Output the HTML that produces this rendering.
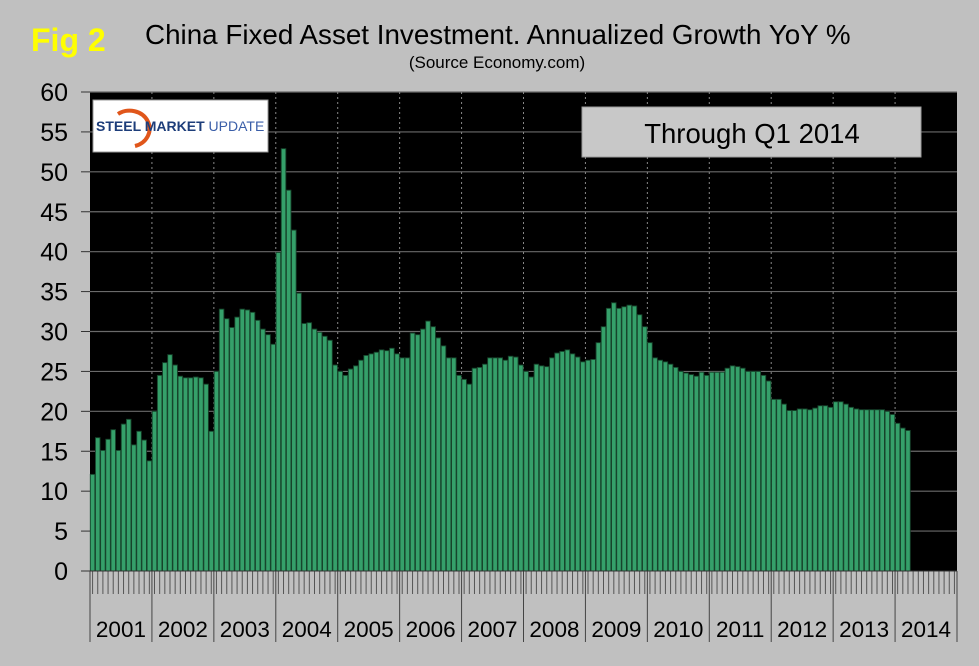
<!DOCTYPE html>
<html><head><meta charset="utf-8"><style>
html,body{margin:0;padding:0;background:#c0c0c0;}
svg{display:block;font-family:"Liberation Sans",Arial,sans-serif;}
</style></head><body>
<svg id="chart" width="979" height="666" viewBox="0 0 979 666">
<rect x="0" y="0" width="979" height="666" fill="#c0c0c0"/>
<text x="31" y="51" font-size="32" font-weight="bold" fill="#ffff00">Fig 2</text>
<text x="145" y="44" font-size="27.8" fill="#000">China Fixed Asset Investment. Annualized Growth YoY %</text>
<text x="497" y="68" font-size="17" fill="#000" text-anchor="middle">(Source Economy.com)</text>
<rect x="90" y="92" width="867" height="479" fill="#000"/>
<g id="grid"></g>
<g id="bars"></g>
<g id="axes"></g>
<g>
<rect x="93" y="100" width="175" height="52" fill="#fff" stroke="#999" stroke-width="1"/>
<path d="M118 114 A20 18 0 1 1 135 146" fill="none" stroke="#e0561b" stroke-width="4"/>
<text x="96" y="131" font-size="14" font-weight="bold" fill="#1d3d7a">STEEL <tspan fill="#1d3d7a" font-weight="bold">MARKET</tspan> <tspan font-weight="normal" fill="#3a5ea8">UPDATE</tspan></text>
</g>
<rect x="582" y="107" width="339" height="50" fill="#c8c8c8" stroke="#9a9a9a"/>
<text x="752" y="143" font-size="27.5" text-anchor="middle" fill="#000">Through Q1 2014</text>
</svg>
<script>
const years = ["2001","2002","2003","2004","2005","2006","2007","2008","2009","2010","2011","2012","2013","2014"];
const yTicks = [0,5,10,15,20,25,30,35,40,45,50,55,60];
const values = [
12.1,16.7,15.1,16.5,17.7,15.1,18.4,19.0,15.8,17.5,16.4,13.8,
20.0,24.5,26.1,27.1,25.8,24.4,24.2,24.2,24.3,24.2,23.4,17.5,
25.0,32.8,31.6,30.5,31.8,32.8,32.7,32.4,31.4,30.3,29.6,28.4,
39.9,52.9,47.7,42.7,34.8,31.0,31.1,30.3,29.9,29.4,28.9,25.8,
25.0,24.5,25.3,25.7,26.4,27.0,27.2,27.4,27.7,27.6,27.9,27.2,
26.7,26.7,29.8,29.6,30.3,31.3,30.6,29.2,28.2,26.7,26.7,24.5,
24.0,23.4,25.4,25.5,25.9,26.7,26.7,26.7,26.4,26.9,26.8,25.8,
25.0,24.3,25.9,25.7,25.6,26.7,27.3,27.5,27.7,27.2,26.8,26.2,
26.4,26.5,28.6,30.6,32.9,33.6,32.9,33.1,33.3,33.2,32.1,30.6,
28.6,26.7,26.4,26.2,25.9,25.5,25.0,24.8,24.6,24.4,24.9,24.5,
24.9,24.9,24.9,25.4,25.7,25.6,25.4,25.0,25.0,25.0,24.5,23.8,
21.5,21.5,20.9,20.1,20.1,20.3,20.3,20.2,20.4,20.7,20.7,20.5,
21.2,21.2,20.9,20.5,20.3,20.2,20.2,20.2,20.2,20.2,20.0,19.6,
18.5,17.9,17.6
];
const NS="http://www.w3.org/2000/svg";
const X0=90,X1=957,Y0=571,Y1=92,YMAX=60;
const nSlots=years.length*12;
const bw=(X1-X0)/nSlots;
function xPos(i){return X0+i*bw;}
function yPos(v){return Y0-(v/YMAX)*(Y0-Y1);}
function mk(tag,attrs,parent){const e=document.createElementNS(NS,tag);for(const k in attrs)e.setAttribute(k,attrs[k]);parent.appendChild(e);return e;}
const grid=document.getElementById('grid'),bars=document.getElementById('bars'),axes=document.getElementById('axes');
yTicks.forEach(t=>{
  const y=yPos(t);
  if(t>0){const l=mk('line',{x1:X0,x2:X1,y1:y,y2:y,stroke:'#6a6a6a','stroke-width':1.2},grid);
  
  }
  const tk=mk('line',{x1:81,x2:X0,y1:y,y2:y,stroke:'#333','stroke-width':1},axes);
  
  
  const tx=mk('text',{x:68,y:y+9,'font-size':25,'text-anchor':'end',fill:'#000'},axes);
  tx.textContent=t;
  
  
});
years.forEach((yr,k)=>{
  const x=xPos(k*12);
  if(k>0){const d=mk('line',{x1:x,x2:x,y1:Y1,y2:Y0,stroke:'#888','stroke-width':1,'stroke-dasharray':'2,3'},grid);
  
  }
  const s=mk('line',{x1:x,x2:x,y1:Y0,y2:642,stroke:'#444','stroke-width':1},axes);
  
  
  const t=mk('text',{x:x+bw*6,y:637,'font-size':22.5,'text-anchor':'middle',fill:'#000'},axes);
  t.textContent=yr;
  
  
});
const se=mk('line',{x1:X1,x2:X1,y1:Y0,y2:642,stroke:'#444','stroke-width':1},axes);


for(let i=0;i<nSlots;i++){
  const x=xPos(i)+bw/2;
  const m=mk('line',{x1:x,x2:x,y1:Y0,y2:594,stroke:'#555','stroke-width':1},axes);
  
  
}
const xa=mk('line',{x1:X0,x2:X1,y1:Y0,y2:Y0,stroke:'#333','stroke-width':1},axes);


values.forEach((v,i)=>{
  const y=yPos(v);
  const r=mk('rect',{x:xPos(i)+0.3,y:y,width:bw-0.6,height:Y0-y,fill:'#35a06a',stroke:'#17452c','stroke-width':0.9},bars);
  
  
});
</script>
</body></html>
